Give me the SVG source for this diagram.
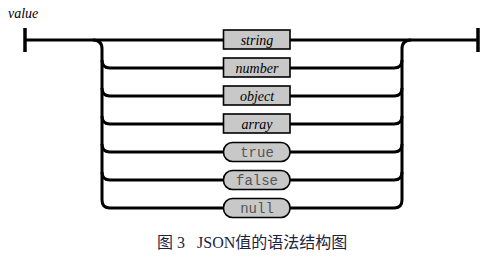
<svg xmlns="http://www.w3.org/2000/svg" width="497" height="262" viewBox="0 0 497 262">
<style>
.ln{fill:none;stroke:#000;stroke-width:3}
.bar{stroke:#000;stroke-width:3.5}
.box{fill:#c8c8c8;stroke:#000;stroke-width:1.6}
.nt{font-style:italic;font-size:14px;fill:#000;text-anchor:middle}
.t{font-size:14px;fill:#555;text-anchor:middle}
.cap{font-size:16px;fill:#1c2440}
</style>
<rect width="497" height="262" fill="#fff"/>
<text x="8" y="18" class="nt" font-family="Liberation Serif, DejaVu Serif, serif" style="text-anchor:start">value</text>
<g id="connectors">
<line class="bar" x1="25" y1="28" x2="25" y2="52"/>
<line class="bar" x1="478" y1="28" x2="478" y2="52"/>
<path class="ln" d="M25 40 L223 40 M290 40 L478 40"/>
<path class="ln" d="M93 40 Q102 40 102 49 L102 200 Q102 208 110 208 L223 208"/>
<path class="ln" d="M290 208 L394 208 Q402 208 402 200 L402 49 Q402 40 411 40"/>
<path class="ln" d="M102 60 Q102 68 110 68 L223 68 M290 68 L394 68 Q402 68 402 60"/>
<path class="ln" d="M102 88 Q102 96 110 96 L223 96 M290 96 L394 96 Q402 96 402 88"/>
<path class="ln" d="M102 116 Q102 124 110 124 L223 124 M290 124 L394 124 Q402 124 402 116"/>
<path class="ln" d="M102 144 Q102 152 110 152 L223 152 M290 152 L394 152 Q402 152 402 144"/>
<path class="ln" d="M102 172 Q102 180 110 180 L223 180 M290 180 L394 180 Q402 180 402 172"/>
</g>
<g id="string"><rect class="box" x="223.5" y="30" width="66.5" height="19"/><text class="nt" font-family="Liberation Serif, DejaVu Serif, serif" x="257" y="44.5">string</text></g>
<g id="number"><rect class="box" x="223.5" y="58" width="66.5" height="19"/><text class="nt" font-family="Liberation Serif, DejaVu Serif, serif" x="257" y="72.5">number</text></g>
<g id="object"><rect class="box" x="223.5" y="86" width="66.5" height="19"/><text class="nt" font-family="Liberation Serif, DejaVu Serif, serif" x="257" y="100.5">object</text></g>
<g id="array"><rect class="box" x="223.5" y="114" width="66.5" height="19"/><text class="nt" font-family="Liberation Serif, DejaVu Serif, serif" x="257" y="128.5">array</text></g>
<g id="true"><rect class="box" x="223.5" y="142.5" width="66.5" height="19" rx="9"/><text class="t" font-family="Liberation Mono, DejaVu Sans Mono, monospace" x="257" y="156.5">true</text></g>
<g id="false"><rect class="box" x="223.5" y="170.5" width="66.5" height="19" rx="9"/><text class="t" font-family="Liberation Mono, DejaVu Sans Mono, monospace" x="257" y="184.5">false</text></g>
<g id="null"><rect class="box" x="223.5" y="198.5" width="66.5" height="19" rx="9"/><text class="t" font-family="Liberation Mono, DejaVu Sans Mono, monospace" x="257" y="212.5">null</text></g>
<text class="cap" font-family="Liberation Serif, Noto Sans CJK SC, serif" x="157" y="248" xml:space="preserve">图 3   JSON值的语法结构图</text>
</svg>
